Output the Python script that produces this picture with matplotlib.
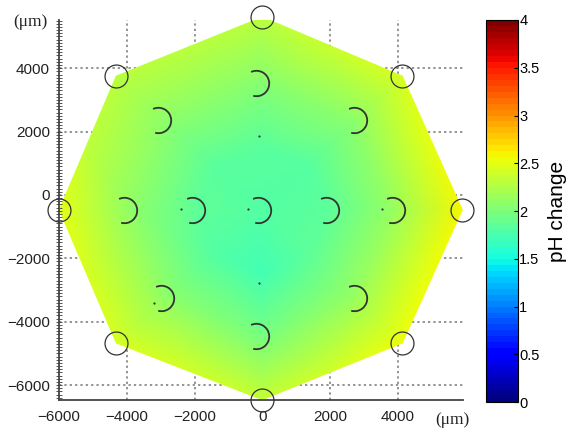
import numpy as np
import matplotlib
matplotlib.use('Agg')
import matplotlib.pyplot as plt
import matplotlib.tri as mtri
from matplotlib.path import Path
from matplotlib.ticker import MultipleLocator

# Data (um, pH change)

# outer electrodes = octagon corners, from right going anticlockwise
vert_x = [5900, 4130, 0, -4310, -5990, -4310, 0, 4130]
vert_y = [-470, 3750, 5610, 3750, -470, -4670, -6460, -4670]
center_x, center_y = 0, -470

# inner electrodes (drawn as open arcs)
arc_x = [-4070, -2065, -120, 1890, 3830, -3070, -180, 2710, -2980, -180, 2710]
arc_y = [-470, -470, -470, -470, -470, 2370, 3520, 2370, -3250, -4450, -3250]

# small dots next to the electrodes
dot_x = [-2390, -410, -90, -90, 3540, -3190]
dot_y = [-440, -440, 1860, -2780, -440, -3410]

# pH change: centre, ring at 1/3, ring at 2/3, corners, edge midpoints
ph_center = 1.8
ph_ring1 = [1.85, 1.82, 1.83, 1.83, 1.86, 1.8, 1.72, 1.85]
ph_ring2 = [2.15, 2.08, 2.05, 2.08, 2.12, 2.1, 1.98, 2.15]
ph_corner = [2.58, 2.45, 2.3, 2.3, 2.5, 2.45, 2.35, 2.55]
ph_edge = [2.52, 2.38, 2.3, 2.32, 2.45, 2.42, 2.42, 2.55]

# field sample points
vx = np.array(vert_x, dtype=float)
vy = np.array(vert_y, dtype=float)
px = [center_x]
py = [center_y]
pv = [ph_center]
for frac, vals in [(1/3, ph_ring1), (2/3, ph_ring2), (1.0, ph_corner)]:
    px += list(center_x + frac*(vx - center_x))
    py += list(center_y + frac*(vy - center_y))
    pv += vals
px += list((vx + np.roll(vx, -1))/2)
py += list((vy + np.roll(vy, -1))/2)
pv += ph_edge

plt.rcParams['font.family'] = ['Liberation Sans', 'DejaVu Sans']

fig = plt.figure(figsize=(5.78, 4.30), dpi=100)
ax = fig.add_axes([0.102, 0.0698, 0.699, 0.8837])

# dotted grid behind the map
for gx in [-4000, -2000, 0, 2000, 4000]:
    ax.axvline(gx, color='#777777', ls=(0, (1.5, 2)), lw=1.1, zorder=0)
for gy in [4000, 2000, 0, -2000, -4000, -6000]:
    ax.axhline(gy, color='#777777', ls=(0, (1.5, 2)), lw=1.1, zorder=0)

cmap = plt.get_cmap('jet', 64)
tri = mtri.Triangulation(px, py)
mesh = ax.tripcolor(tri, pv, shading='gouraud', cmap='jet',
                    vmin=0, vmax=4, zorder=1)

ax.plot(vert_x, vert_y, 'o', ms=16.5, mfc='none', mec='#333333',
        mew=0.9, clip_on=False, zorder=3)
arc_marker = Path.arc(-105, 115)
ax.plot(arc_x, arc_y, ls='none', marker=arc_marker, ms=18.5, mfc='none',
        mec='#333333', mew=1.3, zorder=3)
ax.plot(dot_x, dot_y, 'o', ms=1.6, mew=0, color='#333333', zorder=3)

ax.set_xlim(-6000, 5920)
ax.set_ylim(-6470, 5520)
ax.spines['top'].set_visible(False)
ax.spines['right'].set_visible(False)
ax.spines['left'].set_color('#444444')
ax.spines['bottom'].set_color('#444444')
ax.spines['left'].set_linewidth(1.3)
ax.spines['bottom'].set_linewidth(1.3)
ax.set_xticks([-6000, -4000, -2000, 0, 2000, 4000])
ax.set_yticks([4000, 2000, 0, -2000, -4000, -6000])
ax.yaxis.set_minor_locator(MultipleLocator(100))
ax.tick_params(axis='y', which='minor', direction='inout', length=4,
               width=0.7, color='#555555')
ax.tick_params(axis='y', which='major', direction='inout', length=5,
               width=0.8, color='#555555', labelsize=11, pad=4)
ax.tick_params(axis='x', which='major', length=0, labelsize=11, pad=7)
for lab in ax.get_xticklabels() + ax.get_yticklabels():
    lab.set_color('#222222')

fig.text(0.052, 0.948, '(μm)', fontsize=12.5, family='Liberation Serif',
         ha='center', va='center', color='#222222')
fig.text(0.782, 0.023, '(μm)', fontsize=12.5, family='Liberation Serif',
         ha='center', va='center', color='#222222')

cax = fig.add_axes([0.841, 0.065, 0.055, 0.8885])
sm = matplotlib.cm.ScalarMappable(cmap=cmap, norm=plt.Normalize(0, 4))
cb = fig.colorbar(sm, cax=cax, ticks=np.arange(0, 4.01, 0.5))
cb.ax.set_yticklabels(['0', '0.5', '1', '1.5', '2', '2.5', '3', '3.5', '4'])
cb.ax.tick_params(direction='in', length=3, width=0.8, labelsize=10.5, pad=1)
cb.outline.set_linewidth(0.8)
cb.set_label('pH change', fontsize=15, labelpad=6)

fig.savefig('out.png', dpi=100)
